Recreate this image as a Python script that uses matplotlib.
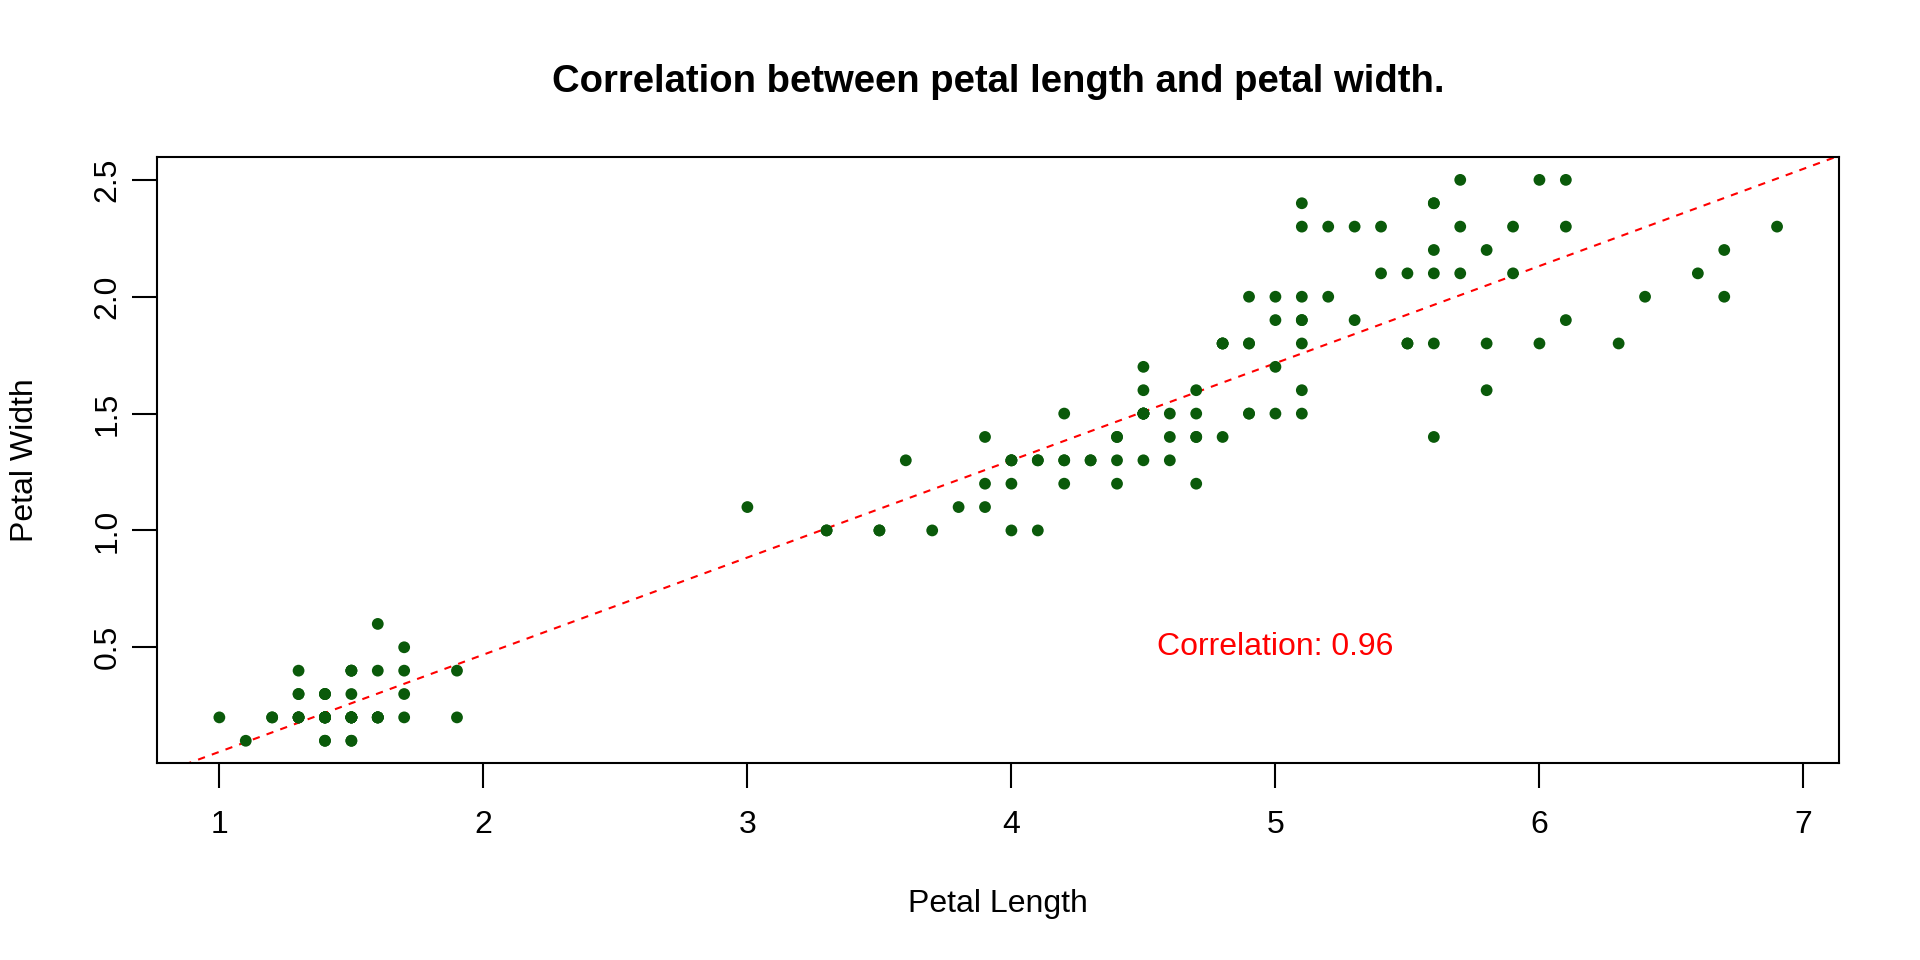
import matplotlib.pyplot as plt
import numpy as np

plt.rcParams['font.family'] = ['Liberation Sans', 'DejaVu Sans']

petal_length = [
    1.4, 1.4, 1.3, 1.5, 1.4, 1.7, 1.4, 1.5, 1.4, 1.5, 1.5, 1.6, 1.4, 1.1, 1.2, 1.5, 1.3, 1.4, 1.7, 1.5,
    1.7, 1.5, 1.0, 1.7, 1.9, 1.6, 1.6, 1.5, 1.4, 1.6, 1.6, 1.5, 1.5, 1.4, 1.5, 1.2, 1.3, 1.4, 1.3, 1.5,
    1.3, 1.3, 1.3, 1.6, 1.9, 1.4, 1.6, 1.4, 1.5, 1.4,
    4.7, 4.5, 4.9, 4.0, 4.6, 4.5, 4.7, 3.3, 4.6, 3.9, 3.5, 4.2, 4.0, 4.7, 3.6, 4.4, 4.5, 4.1, 4.5, 3.9,
    4.8, 4.0, 4.9, 4.7, 4.3, 4.4, 4.8, 5.0, 4.5, 3.5, 3.8, 3.7, 3.9, 5.1, 4.5, 4.5, 4.7, 4.4, 4.1, 4.0,
    4.4, 4.6, 4.0, 3.3, 4.2, 4.2, 4.2, 4.3, 3.0, 4.1,
    6.0, 5.1, 5.9, 5.6, 5.8, 6.6, 4.5, 6.3, 5.8, 6.1, 5.1, 5.3, 5.5, 5.0, 5.1, 5.3, 5.5, 6.7, 6.9, 5.0,
    5.7, 4.9, 6.7, 4.9, 5.7, 6.0, 4.8, 4.9, 5.6, 5.8, 6.1, 6.4, 5.6, 5.1, 5.6, 6.1, 5.6, 5.5, 4.8, 5.4,
    5.6, 5.1, 5.1, 5.9, 5.7, 5.2, 5.0, 5.2, 5.4, 5.1,
]
petal_width = [
    0.2, 0.2, 0.2, 0.2, 0.2, 0.4, 0.3, 0.2, 0.2, 0.1, 0.2, 0.2, 0.1, 0.1, 0.2, 0.4, 0.4, 0.3, 0.3, 0.3,
    0.2, 0.4, 0.2, 0.5, 0.2, 0.2, 0.4, 0.2, 0.2, 0.2, 0.2, 0.4, 0.1, 0.2, 0.2, 0.2, 0.2, 0.1, 0.2, 0.2,
    0.3, 0.3, 0.2, 0.6, 0.4, 0.3, 0.2, 0.2, 0.2, 0.2,
    1.4, 1.5, 1.5, 1.3, 1.5, 1.3, 1.6, 1.0, 1.3, 1.4, 1.0, 1.5, 1.0, 1.4, 1.3, 1.4, 1.5, 1.0, 1.5, 1.1,
    1.8, 1.3, 1.5, 1.2, 1.3, 1.4, 1.4, 1.7, 1.5, 1.0, 1.1, 1.0, 1.2, 1.6, 1.5, 1.6, 1.5, 1.3, 1.3, 1.3,
    1.2, 1.4, 1.2, 1.0, 1.3, 1.2, 1.3, 1.3, 1.1, 1.3,
    2.5, 1.9, 2.1, 1.8, 2.2, 2.1, 1.7, 1.8, 1.8, 2.5, 2.0, 1.9, 2.1, 2.0, 2.4, 2.3, 1.8, 2.2, 2.3, 1.5,
    2.3, 2.0, 2.0, 1.8, 2.1, 1.8, 1.8, 1.8, 2.1, 1.6, 1.9, 2.0, 2.2, 1.5, 1.4, 2.3, 2.4, 1.8, 1.8, 2.1,
    2.4, 2.3, 1.9, 2.3, 2.5, 2.3, 1.9, 2.0, 2.3, 1.8,
]
x_ticks = [1, 2, 3, 4, 5, 6, 7]
y_ticks = [0.5, 1.0, 1.5, 2.0, 2.5]
corr_label = "Correlation: 0.96"

x = np.array(petal_length)
y = np.array(petal_width)
slope, intercept = np.polyfit(x, y, 1)

fig = plt.figure(figsize=(19.2, 9.6), dpi=100)
ax = fig.add_axes([0.0818, 0.205, 0.8762, 0.631])

ax.scatter(x, y, s=72, color='#0a5a0a', edgecolors='none', zorder=3)

# R-style 4% padding on both axes
xpad = (x.max() - x.min()) * 0.04
ypad = (y.max() - y.min()) * 0.04
xlim = (x.min() - xpad, x.max() + xpad)
ylim = (y.min() - ypad, y.max() + ypad)

xs = np.array(xlim)
ax.plot(xs, intercept + slope * xs, color='red', linestyle=(0, (3.5, 3.5)), linewidth=1.5, zorder=2)
ax.set_xlim(*xlim)
ax.set_ylim(*ylim)

ax.text(5, 0.5, corr_label, color='red', fontsize=23, ha='center', va='center')

ax.set_xticks(x_ticks)
ax.set_xticklabels([str(t) for t in x_ticks])
ax.set_yticks(y_ticks)
ax.set_yticklabels([f"{t:.1f}" for t in y_ticks], rotation=90, va='center')
ax.tick_params(axis='both', length=18, width=1.5, labelsize=23)
ax.tick_params(axis='x', pad=16)
ax.tick_params(axis='y', pad=7)
for sp in ax.spines.values():
    sp.set_linewidth(1.5)

ax.set_xlabel('Petal Length', fontsize=23, labelpad=35)
ax.set_ylabel('Petal Width', fontsize=23, labelpad=38)
ax.set_title('Correlation between petal length and petal width.', fontsize=27.5,
             fontweight='bold', pad=47)

fig.savefig('out.png', dpi=100, facecolor='white')
